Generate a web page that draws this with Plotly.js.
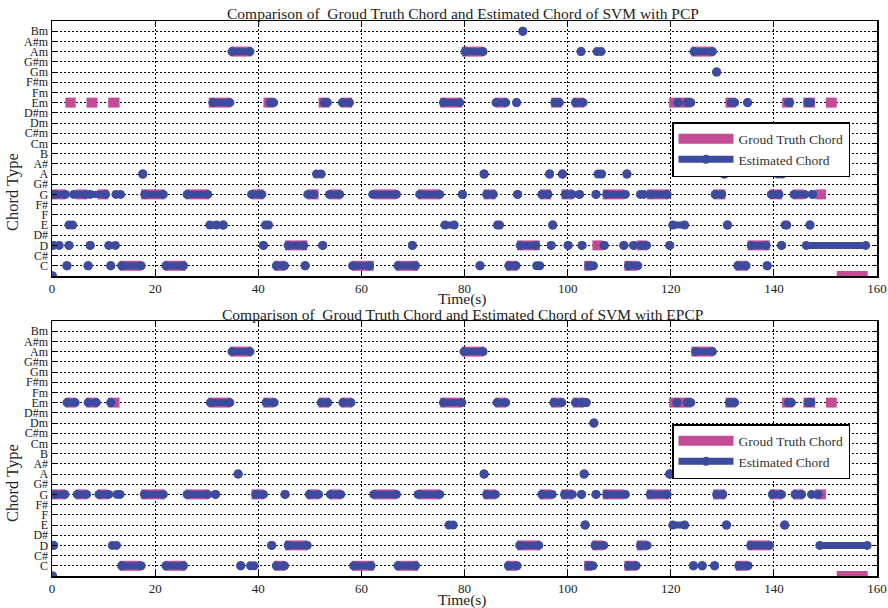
<!DOCTYPE html>
<html><head><meta charset="utf-8">
<script src="https://cdn.plot.ly/plotly-3.0.1.min.js"></script>
<style>html,body{margin:0;padding:0;background:#fff}#chart{width:888px;height:608px}</style>
</head><body><div id="chart"></div>
<script>
// y categories (index 0 = no chord, unlabeled)
const chordLabels = ['N','C','C#','D','D#','E','F','F#','G','G#','A','A#','B','Cm','C#m','Dm','D#m','Em','Fm','F#m','Gm','G#m','Am','A#m','Bm'];
const xTickVals = [0,20,40,60,80,100,120,140,160];

// Ground truth: contiguous chord segments (boundaries in seconds)
const gtChord = ['G','Em','G','Em','G','Em','C','G','C','G','Em','Am','G','Em','C','D','G','Em','G','Em','C','G','C','G','Em','Am','G','Em','C','D','G','Em','G','Em','C','D','G','C','D','G','Em','Am','G','Em','C','D','G','Em','G','Em','G','Em','N'];
const gtBound = [0,2.6,4.6,6.7,8.8,10.9,13.1,17.3,21.8,25.9,30.4,34.6,38.7,41.0,43.1,45.2,49.5,51.7,53.8,56.0,58.2,62.4,66.7,71.0,75.3,79.5,83.7,86.0,88.1,90.2,94.6,96.8,98.8,101.0,103.2,104.8,106.8,111.0,113.4,115.4,119.7,124.0,128.2,130.6,132.6,134.9,139.2,141.6,143.7,145.7,148.0,150.1,152.2,158.2];

// Estimated chords, SVM with PCP
const pcpChord = ['N','G','D','C','E','D','G','C','D','G','D','C','G','C','A','G','C','G','E','E','Em','Am','G','D','E','Em','C','D','C','G','A','D','Em','G','Em','C','G','C','D','G','Em','E','G','Am','C','A','G','Em','E','C','Em','G','D','Bm','C','G','A','D','E','Em','A','G','D','Em','G','Am','D','C','G','Am','A','D','G','D','A','C','D','G','D','G','D','E','Em','Em','Am','G','Gm','A','E','Em','C','Em','D','C','G','A','D','E','Em','G','D','Em','E','G'];
const pcpStart = [0.1,0.5,0.3,2.9,3.3,3.3,4.2,7.0,7.4,7.4,11.0,11.4,12.4,13.5,17.6,18.0,22.1,26.2,30.6,33.2,31.2,34.9,38.7,41.0,41.4,42.3,43.5,45.8,49.1,49.6,51.3,52.5,52.8,53.8,56.3,58.3,62.2,67.1,69.9,71.3,75.9,76.2,79.6,80.1,83.0,83.8,84.3,86.1,86.4,88.6,90.1,90.3,90.8,91.3,94.0,95.0,96.5,96.8,97.1,97.5,99.0,99.6,100.1,101.5,102.3,102.6,102.8,104.1,105.5,105.7,105.9,107.1,107.6,110.9,111.5,111.8,112.8,114.1,114.3,116.2,119.8,120.4,121.4,123.2,124.5,128.6,128.9,130.4,131.0,131.7,133.0,134.9,135.6,138.7,139.5,140.8,141.5,142.2,142.8,143.9,146.3,146.6,147.0,147.5];
const pcpEnd = [0.1,2.6,1.4,2.9,4.0,3.3,6.6,7.0,7.4,10.4,12.3,11.4,13.3,17.3,17.6,21.6,25.5,30.2,31.9,33.2,34.5,38.4,40.7,41.0,42.0,43.0,45.1,48.8,49.1,50.8,52.2,52.5,53.4,55.8,57.7,61.6,66.8,70.5,69.9,75.2,79.1,78.0,79.6,83.6,83.0,83.8,85.6,88.0,86.8,90.0,90.1,90.3,93.8,91.3,94.6,96.2,96.5,96.8,97.1,98.4,99.0,100.9,100.1,103.0,102.3,102.6,102.8,105.0,105.5,106.5,106.6,107.1,111.2,110.9,111.5,113.6,112.8,114.8,115.3,119.3,119.8,122.7,121.4,123.9,128.1,129.9,128.9,130.4,131.0,132.4,134.6,134.9,138.5,138.7,141.0,141.6,141.5,142.5,143.1,146.0,157.8,147.1,147.0,147.5];

// Estimated chords, SVM with EPCP
const epcpChord = ['N','G','D','Em','G','Em','G','Em','D','G','C','G','C','G','Em','G','Am','A','C','C','G','Em','D','C','G','D','G','Em','G','Em','C','G','C','G','Em','E','Am','A','G','Em','C','D','G','Em','G','Em','Em','G','A','E','C','Dm','G','D','G','C','D','G','A','E','Em','Em','C','Am','C','C','G','E','Em','C','D','G','A','E','Em','G','Em','G','D'];
const epcpStart = [0.1,0.5,0.3,2.9,4.9,7.0,9.1,11.4,11.7,12.6,13.5,17.9,22.1,26.2,30.7,31.7,34.9,36.1,36.6,38.5,39.5,41.5,42.6,43.5,45.2,45.8,49.9,52.2,54.0,56.4,58.5,62.4,67.1,71.0,75.9,77.0,79.9,83.8,84.3,86.3,88.5,90.7,95.0,97.3,99.4,101.5,103.6,102.7,103.2,103.4,104.1,105.1,105.5,105.3,107.6,111.8,114.1,116.0,119.8,120.4,121.2,123.2,124.4,124.8,126.1,128.5,128.9,130.8,131.4,133.2,135.5,139.7,141.8,142.1,142.8,144.1,146.7,147.3,148.9];
const epcpEnd = [0.1,2.5,0.3,4.5,6.7,8.6,11.0,11.4,12.5,13.2,17.3,21.6,25.5,30.2,34.5,31.7,38.4,36.1,36.6,39.2,41.0,43.1,42.6,45.1,45.2,49.5,51.7,53.5,56.0,58.0,61.9,66.8,70.5,75.2,79.5,77.8,83.6,83.8,86.0,88.0,90.2,94.4,97.0,98.9,100.9,102.8,103.6,102.7,103.2,103.4,104.9,105.1,105.5,107.0,111.2,113.3,115.4,119.3,119.8,122.7,121.2,123.9,124.4,128.1,126.1,128.5,130.1,130.8,132.4,135.0,139.2,141.5,141.8,142.1,143.4,145.4,147.2,148.6,158.1];

const gtColor = '#c44b96';
const estColor = '#3c4b9e';
const serif = 'Liberation Serif, Times New Roman, serif';

function segTrace(chords, starts, ends) {
  const x = [], y = [];
  for (let i = 0; i < chords.length; i++) {
    const k = chordLabels.indexOf(chords[i]);
    x.push(starts[i], ends[i], null);
    y.push(k, k, null);
  }
  return {x, y};
}
const gtStarts = gtBound.slice(0, -1), gtEnds = gtBound.slice(1);
const gtSeg = segTrace(gtChord, gtStarts, gtEnds);
const pcpSeg = segTrace(pcpChord, pcpStart, pcpEnd);
const epcpSeg = segTrace(epcpChord, epcpStart, epcpEnd);

function gtTrace(ax, lg) {
  return {x: gtSeg.x, y: gtSeg.y, xaxis: ax[0], yaxis: ax[1], legend: lg, type: 'scatter', mode: 'lines',
    name: 'Groud Truth Chord', line: {color: gtColor, width: 10}, connectgaps: false, hoverinfo: 'skip'};
}
function estTrace(seg, ax, lg) {
  return {x: seg.x, y: seg.y, xaxis: ax[0], yaxis: ax[1], legend: lg, type: 'scatter', mode: 'lines+markers',
    name: 'Estimated Chord', line: {color: estColor, width: 7}, marker: {color: estColor, size: 9},
    connectgaps: false, hoverinfo: 'skip'};
}

const data = [
  gtTrace(['x','y'], 'legend'), estTrace(pcpSeg, ['x','y'], 'legend'),
  gtTrace(['x2','y2'], 'legend2'), estTrace(epcpSeg, ['x2','y2'], 'legend2')
];

function xax(dom, anchor) {
  return {domain: dom, anchor: anchor, range: [0,160], tickvals: xTickVals, ticktext: xTickVals.map(String),
    showgrid: true, gridcolor: '#000', gridwidth: 1, griddash: '2px,2px', zeroline: false,
    showline: true, linecolor: '#000', linewidth: 1.5, mirror: 'ticks', ticks: 'inside', ticklen: 5, tickcolor: '#000',
    tickfont: {family: serif, size: 13, color: '#222'}, automargin: false, fixedrange: true};
}
function yax(dom, anchor) {
  const vals = [], txt = [];
  for (let i = 1; i < chordLabels.length; i++) { vals.push(i); txt.push(chordLabels[i]); }
  return {domain: dom, anchor: anchor, range: [0,25], tickvals: vals, ticktext: txt,
    showgrid: true, gridcolor: '#000', gridwidth: 1, griddash: '2px,2px', zeroline: false,
    showline: true, linecolor: '#000', linewidth: 1.5, mirror: 'ticks', ticks: 'inside', ticklen: 5, tickcolor: '#000',
    tickfont: {family: serif, size: 12, color: '#222'}, automargin: false, fixedrange: true};
}
const xd = [52/888, 877/888];
const W = 888, H = 608;
const px = v => v / W, py = v => 1 - v / H;

function legendCfg(topPx) {
  return {x: px(672), y: py(topPx), xanchor: 'left', yanchor: 'top', bgcolor: '#fff', bordercolor: '#000', borderwidth: 1.5,
    font: {family: serif, size: 13.5, color: '#333'}, itemwidth: 55, tracegroupgap: 0};
}

const ann = (text, x, y, size, extra) => Object.assign({text, x, y, xref: 'paper', yref: 'paper', showarrow: false,
  xanchor: 'center', yanchor: 'middle', font: {family: serif, size: size, color: '#222'}}, extra || {});

const layout = {
  width: W, height: H, margin: {l: 0, r: 0, t: 0, b: 0}, paper_bgcolor: '#fff', plot_bgcolor: '#fff',
  showlegend: true,
  xaxis: xax(xd, 'y'), yaxis: yax([py(276), py(21)], 'x'),
  xaxis2: xax(xd, 'y2'), yaxis2: yax([py(576), py(321)], 'x2'),
  legend: legendCfg(122), legend2: legendCfg(424),
  annotations: [
    ann('Comparison of&nbsp; Groud Truth Chord and Estimated Chord of SVM with PCP', px(463), py(13), 15.5),
    ann('Comparison of&nbsp; Groud Truth Chord and Estimated Chord of SVM with EPCP', px(463), py(314), 15.5),
    ann('Time(s)', px(463), py(299), 15.5),
    ann('Time(s)', px(463), py(600), 15.5),
    ann('Chord Type', px(12), py(192), 16.5, {textangle: -90}),
    ann('Chord Type', px(12), py(483), 16.5, {textangle: -90})
  ]
};
Plotly.newPlot('chart', data, layout, {displayModeBar: false, staticPlot: true});
</script></body></html>
